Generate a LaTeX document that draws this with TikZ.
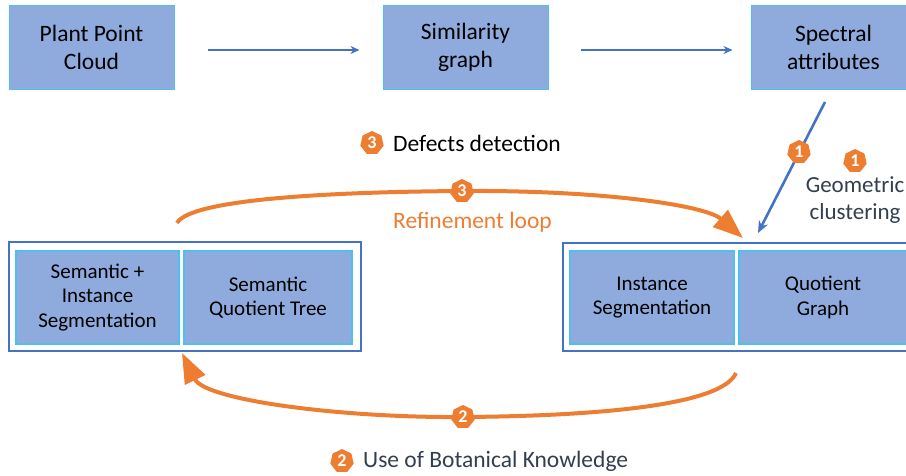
\documentclass[tikz,border=0pt]{standalone}
\usepackage{fontspec}
\setmainfont{Carlito}
\usetikzlibrary{shapes.geometric,arrows.meta}
\definecolor{boxfill}{HTML}{8FAADC}
\definecolor{boxline}{HTML}{4DC0EE}
\definecolor{frameblue}{HTML}{4472C4}
\definecolor{orng}{HTML}{ED7D31}
\definecolor{slate}{HTML}{333F50}
\begin{document}
\begin{tikzpicture}[x=1pt,y=-1pt,
  box/.style={draw=boxline, line width=1pt, fill=boxfill, minimum width=165pt, minimum height=84pt, align=center, inner sep=0pt, font=\fontsize{23.5}{28}\selectfont},
  ibox/.style={draw=boxline, line width=1.2pt, fill=boxfill, minimum height=93pt, align=center, inner sep=0pt, font=\fontsize{21}{24.5}\selectfont},
  framebox/.style={draw=frameblue, line width=2.5pt, fill=white, inner sep=0pt},
  flow/.style={draw=frameblue, line width=2.6pt, -{Stealth[length=9pt,width=8pt]}},
  loopline/.style={draw=orng, line width=4pt, -{Triangle[length=30pt,width=22pt]}},
  badge/.style={regular polygon, regular polygon sides=7, fill=orng, text=white, minimum size=24pt, inner sep=0pt, font=\fontsize{18}{18}\selectfont\bfseries},
  lbl/.style={inner sep=0pt, font=\fontsize{23.5}{27}\selectfont}
]
\useasboundingbox (0,0) rectangle (906,475);

% top row
\node[box] (ppc) at (91.5,47) {Plant Point\\Cloud};
\node[box] (sim) at (465.5,47) {Similarity\\graph};
\node[box] (spec) at (833.5,47) {Spectral\\attributes};
\draw[flow, shorten <=33pt, shorten >=23pt] ([yshift=-3pt]ppc.east) -- ([yshift=-3pt]sim.west);
\draw[flow, shorten <=32pt, shorten >=18pt] ([yshift=-3pt]sim.east) -- ([yshift=-3pt]spec.west);

% left group
\node[framebox, minimum width=352pt, minimum height=109pt] (lf) at (185,296.5) {};
\node[ibox, minimum width=163pt] (sis) at (97.5,297.5) {Semantic +\\Instance\\Segmentation};
\node[ibox, minimum width=168pt] (sqt) at (268,297.5) {Semantic\\Quotient Tree};

% right group
\node[framebox, minimum width=349pt, minimum height=108pt] (rf) at (737.5,297) {};
\node[ibox, minimum width=164pt] (iseg) at (652,297.5) {Instance\\Segmentation};
\node[ibox, minimum width=168pt] (qg) at (823,297.5) {Quotient\\Graph};

% geometric clustering arrow
\coordinate (d0) at (825,102);
\coordinate (d1) at (758,233);
\draw[flow, -{Stealth[length=12pt,width=10pt]}] (d0) -- (d1);
\node[badge] (b1a) at (799,152) {1};
\node[badge] (b1b) at (855,161) {1};
\node[lbl, text=slate, align=center, font=\fontsize{23}{27}\selectfont] (gc) at (855,200) {Geometric\\clustering};

% defects detection
\node[badge] (b3) at (372,143) {3};
\node[lbl, anchor=west] (dd) at (393,143) {Defects detection};

% refinement loop
\coordinate (t0) at (177,223);
\coordinate (t1) at (462,191);
\coordinate (t2) at (743,238);
\draw[loopline] (t0) .. controls (190,200) and (320,192) .. (t1) .. controls (600,190) and (705,205) .. (t2);
\node[badge] (b3b) at (t1) {3};
\node[lbl, text=orng] (rl) at (472.5,222) {Refinement loop};

% botanical knowledge loop
\coordinate (u0) at (736,373);
\coordinate (u1) at (463,417);
\coordinate (u2) at (182,353);
\draw[loopline] (u0) .. controls (722,405) and (600,416) .. (u1) .. controls (340,418) and (205,400) .. (u2);
\node[badge] (b2) at (u1) {2};
\node[badge] (b2b) at (342,461) {2};
\node[lbl, text=slate, anchor=west] (bk) at (363,461) {Use of Botanical Knowledge};
\end{tikzpicture}
\end{document}
